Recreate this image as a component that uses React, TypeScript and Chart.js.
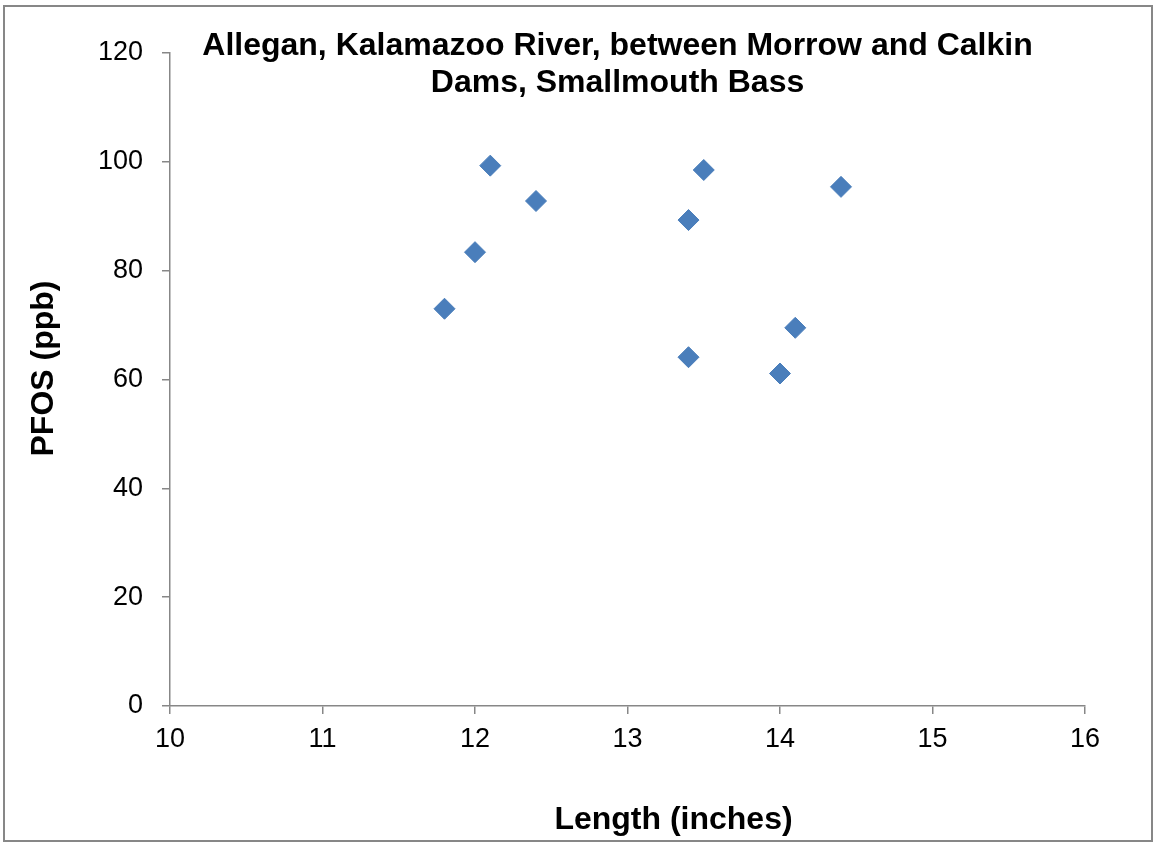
import React, { useEffect, useRef } from "react";
import { Chart, registerables } from "chart.js";

Chart.register(...registerables);

const titleLines = ["Allegan, Kalamazoo River, between Morrow and Calkin", "Dams, Smallmouth Bass"];
const xAxisTitle = "Length (inches)";
const yAxisTitle = "PFOS (ppb)";

const lengthInches = [11.8, 12.0, 12.1, 12.4, 13.4, 13.5, 13.4, 14.0, 14.1, 14.4];
const pfosPpb = [73.0, 83.4, 99.3, 92.8, 89.3, 98.5, 64.1, 61.1, 69.5, 95.4];

const xMin = 10, xMax = 16, xStep = 1;
const yMin = 0, yMax = 120, yStep = 20;

const W = 1156, H = 842;
const FONT = "'Liberation Sans', Arial, sans-serif";
const AXIS_GRAY = "#878787";
const MARKER_BLUE = "#4A7EBB";

const framePlugin = {
  id: "frame",
  beforeDraw(chart: any) {
    const ctx = chart.ctx;
    ctx.save();
    ctx.fillStyle = "#ffffff";
    ctx.fillRect(0, 0, chart.width, chart.height);
    ctx.strokeStyle = AXIS_GRAY;
    ctx.lineWidth = 2;
    ctx.strokeRect(4, 6, chart.width - 8, chart.height - 7);
    ctx.restore();
  },
};

const overlayTextPlugin = {
  id: "overlayText",
  afterDraw(chart: any) {
    const ctx = chart.ctx;
    const area = chart.chartArea;
    ctx.save();
    ctx.fillStyle = "#000000";
    ctx.font = `bold 32px ${FONT}`;
    ctx.textAlign = "center";
    ctx.textBaseline = "alphabetic";
    const cx = (area.left + area.right) / 2 - 10;
    titleLines.forEach((line, i) => {
      ctx.fillText(line, cx, area.top + 2 + i * 37);
    });
    // x axis title (Excel-style placement, slightly right of centre)
    ctx.fillText(xAxisTitle, (area.left + area.right) / 2 + 46, chart.height - 13);
    // y axis title
    ctx.save();
    ctx.translate(53, (area.top + area.bottom) / 2 - 11);
    ctx.rotate(-Math.PI / 2);
    ctx.fillText(yAxisTitle, 0, 0);
    ctx.restore();
    ctx.restore();
  },
};

export default function App() {
  const canvasRef = useRef<HTMLCanvasElement | null>(null);

  useEffect(() => {
    document.body.style.margin = "0";
    const canvas = canvasRef.current;
    if (!canvas) return;
    const chart = new Chart(canvas, {
      type: "scatter",
      data: {
        datasets: [
          {
            label: "PFOS",
            data: lengthInches.map((x, i) => ({ x, y: pfosPpb[i] })),
            pointStyle: "rectRot",
            pointRadius: 10.5,
            pointHoverRadius: 10.5,
            backgroundColor: MARKER_BLUE,
            borderColor: MARKER_BLUE,
            borderWidth: 1,
          },
        ],
      },
      options: {
        responsive: false,
        animation: false,
        events: [],
        layout: { padding: { top: 53, right: 71, left: 0, bottom: 0 } },
        plugins: {
          legend: { display: false },
          title: { display: false },
          tooltip: { enabled: false },
        },
        scales: {
          x: {
            type: "linear",
            min: xMin,
            max: xMax,
            afterFit(scale: any) {
              scale.height = 136;
            },
            ticks: {
              stepSize: xStep,
              color: "#000000",
              padding: 9,
              font: { family: FONT, size: 27 },
              maxRotation: 0,
            },
            grid: {
              drawOnChartArea: false,
              drawTicks: true,
              tickLength: 8,
              color: AXIS_GRAY,
              lineWidth: 1.5,
            },
            border: { display: true, color: AXIS_GRAY, width: 1.5 },
            title: { display: false, text: xAxisTitle },
          },
          y: {
            type: "linear",
            min: yMin,
            max: yMax,
            afterFit(scale: any) {
              scale.width = 170;
            },
            ticks: {
              stepSize: yStep,
              color: "#000000",
              padding: 19,
              font: { family: FONT, size: 27 },
            },
            grid: {
              drawOnChartArea: false,
              drawTicks: true,
              tickLength: 8,
              color: AXIS_GRAY,
              lineWidth: 1.5,
            },
            border: { display: true, color: AXIS_GRAY, width: 1.5 },
            title: { display: false, text: yAxisTitle },
          },
        },
      },
      plugins: [framePlugin, overlayTextPlugin],
    });
    return () => chart.destroy();
  }, []);

  return (
    <div style={{ width: W, height: H, position: "relative" }}>
      <canvas ref={canvasRef} width={W} height={H} />
    </div>
  );
}
